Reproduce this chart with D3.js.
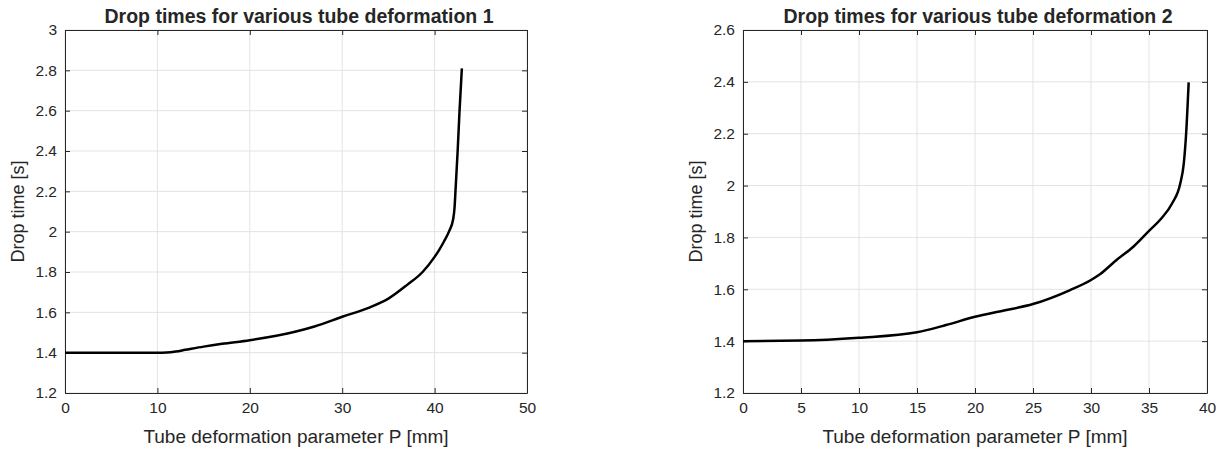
<!doctype html>
<html lang="en">
<head>
<meta charset="utf-8" />
<title>Drop times for various tube deformation</title>
<script src="https://cdn.jsdelivr.net/npm/d3@7"></script>
<style>
  body { margin: 0; background: #fff; }
  svg text { font-family: "Liberation Sans", Arial, sans-serif; fill: #262626; }
</style>
</head>
<body>
<script>
// values
var p1 = [0, 5, 10, 11, 12, 13, 15, 17, 20, 25, 27, 30, 33, 35, 37, 38.7, 40, 40.5, 41, 41.6, 42, 42.16, 42.27, 42.5, 42.7, 42.95];
var t1 = [1.4, 1.4, 1.4, 1.401, 1.406, 1.414, 1.43, 1.444, 1.462, 1.505, 1.53, 1.578, 1.625, 1.668, 1.735, 1.8, 1.875, 1.91, 1.95, 2.005, 2.06, 2.12, 2.21, 2.405, 2.6, 2.81];

var p2 = [0, 5, 10, 15, 17.5, 20, 22.5, 25, 28.2, 30, 30.8, 32.2, 33.65, 35, 36, 37, 37.7, 38, 38.2, 38.42];
var t2 = [1.4, 1.402, 1.413, 1.434, 1.462, 1.494, 1.518, 1.543, 1.597, 1.636, 1.659, 1.713, 1.764, 1.825, 1.87, 1.932, 2.009, 2.086, 2.2, 2.398];

var xTicks1 = [0, 10, 20, 30, 40, 50];
var yTicks1 = [1.2, 1.4, 1.6, 1.8, 2, 2.2, 2.4, 2.6, 2.8, 3];
var xTicks2 = [0, 5, 10, 15, 20, 25, 30, 35, 40];
var yTicks2 = [1.2, 1.4, 1.6, 1.8, 2, 2.2, 2.4, 2.6];

var titles = ["Drop times for various tube deformation 1", "Drop times for various tube deformation 2"];
var xLabel = "Tube deformation parameter P [mm]";
var yLabel = "Drop time [s]";

var W = 1222, H = 449;
var svg = d3.select("body").append("svg").attr("width", W).attr("height", H);

var panels = [
  { left: 65, right: 527, top: 30, bottom: 393, xd: [0, 50], yd: [1.2, 3], xt: xTicks1, yt: yTicks1, p: p1, t: t1, title: titles[0], ylx: 24 },
  { left: 743, right: 1207, top: 30, bottom: 393, xd: [0, 40], yd: [1.2, 2.6], xt: xTicks2, yt: yTicks2, p: p2, t: t2, title: titles[1], ylx: 702 }
];

panels.forEach(function(c) {
  var x = d3.scaleLinear().domain(c.xd).range([c.left, c.right]);
  var y = d3.scaleLinear().domain(c.yd).range([c.bottom, c.top]);
  var g = svg.append("g");
  var tickLen = 5;

  // grid
  g.selectAll(".gx").data(c.xt).enter().append("line")
    .attr("x1", function(d) { return x(d); }).attr("x2", function(d) { return x(d); })
    .attr("y1", c.top).attr("y2", c.bottom)
    .attr("stroke", "#e3e3e3").attr("stroke-width", 1);
  g.selectAll(".gy").data(c.yt).enter().append("line")
    .attr("y1", function(d) { return y(d); }).attr("y2", function(d) { return y(d); })
    .attr("x1", c.left).attr("x2", c.right)
    .attr("stroke", "#e3e3e3").attr("stroke-width", 1);

  // axes (ticks inward, box on)
  var fmt = function(d) { return String(+d.toFixed(1)); };
  g.append("g").attr("transform", "translate(0," + c.bottom + ")")
    .call(d3.axisBottom(x).tickValues(c.xt).tickSizeInner(-tickLen).tickSizeOuter(0).tickPadding(9).tickFormat(fmt));
  g.append("g").attr("transform", "translate(0," + c.top + ")")
    .call(d3.axisTop(x).tickValues(c.xt).tickSizeInner(-tickLen).tickSizeOuter(0).tickFormat(""));
  g.append("g").attr("transform", "translate(" + c.left + ",0)")
    .call(d3.axisLeft(y).tickValues(c.yt).tickSizeInner(-tickLen).tickSizeOuter(0).tickPadding(8).tickFormat(fmt));
  g.append("g").attr("transform", "translate(" + c.right + ",0)")
    .call(d3.axisRight(y).tickValues(c.yt).tickSizeInner(-tickLen).tickSizeOuter(0).tickFormat(""));

  g.selectAll(".domain, .tick line").attr("stroke", "#262626").attr("stroke-width", 1);
  g.selectAll(".tick text").attr("font-size", "15.5px").attr("fill", "#262626")
    .attr("font-family", "'Liberation Sans', Arial, sans-serif");

  // curve
  var pts = c.p.map(function(d, i) { return [d, c.t[i]]; });
  var line = d3.line()
    .x(function(d) { return x(d[0]); })
    .y(function(d) { return y(d[1]); })
    .curve(d3.curveMonotoneX);
  g.append("path").datum(pts)
    .attr("d", line)
    .attr("fill", "none")
    .attr("stroke", "#000")
    .attr("stroke-width", 2.5)
    .attr("stroke-linejoin", "round");

  // labels
  var cx = (c.left + c.right) / 2;
  g.append("text").attr("x", cx + 3).attr("y", 23)
    .attr("text-anchor", "middle").attr("font-size", "19.5px").attr("font-weight", "bold")
    .attr("fill", "#000").text(c.title);
  g.append("text").attr("x", cx).attr("y", 443)
    .attr("text-anchor", "middle").attr("font-size", "19px").text(xLabel);
  g.append("text")
    .attr("transform", "translate(" + c.ylx + "," + ((c.top + c.bottom) / 2) + ") rotate(-90)")
    .attr("text-anchor", "middle").attr("font-size", "18px").text(yLabel);
});
</script>
</body>
</html>
